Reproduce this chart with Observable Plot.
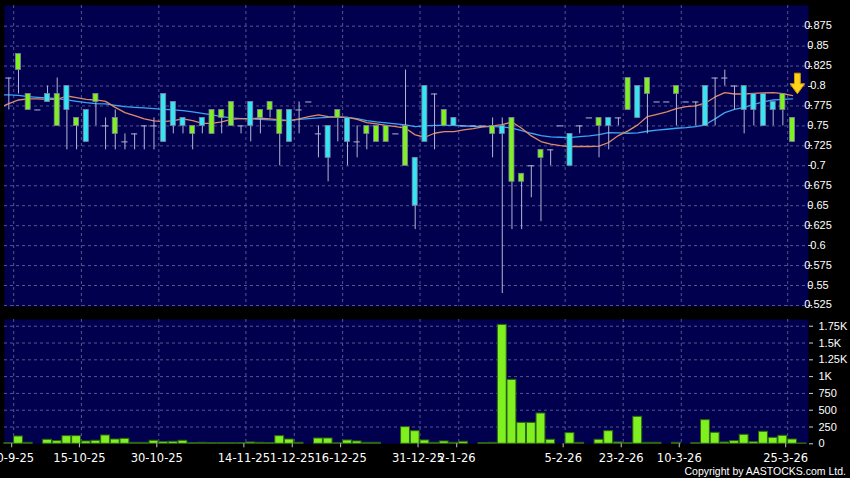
<!DOCTYPE html>
<html>
<head>
<meta charset="utf-8">
<script src="https://cdn.jsdelivr.net/npm/d3@7"></script>
<script src="https://cdn.jsdelivr.net/npm/@observablehq/plot@0.6"></script>
<style>
  html, body { margin: 0; padding: 0; background: #000; }
  #wrap { position: relative; width: 850px; height: 478px; overflow: hidden; background: #000; }
  #price { position: absolute; left: 0; top: 0; z-index: 3; }
  #vol { position: absolute; left: 0; top: 310px; z-index: 1; }
  #copy { position: absolute; right: 4px; top: 466px; color: #fff; font-family: "Liberation Sans", Arial, sans-serif; font-size: 10.5px; line-height: 1; white-space: nowrap; z-index: 4; }
  #price svg { overflow: visible; }
</style>
</head>
<body>
<div id="wrap">
  <div id="price"></div>
  <div id="vol"></div>
  <div id="copy">Copyright by AASTOCKS.com Ltd.</div>
</div>
<script>
// ---- data (one entry per trading slot, left to right) ----
const opens  = [0.81,0.82,0.77,0.77,0.79,0.75,0.80,0.75,0.77,0.78, 0.75,0.74,0.73,0.74,0.75,0.75,0.79,0.78,0.76,0.74, 0.76,0.74,0.76,0.75,0.75,0.78,0.76,0.77,0.74,0.77, 0.77,0.78,0.74,0.75,0.76,0.76,0.73,0.74,0.73,0.73, 0.74,0.70,0.71,0.80,0.79,0.75,0.76,0.75,0.75,0.75, 0.74,0.75,0.68,0.68,0.70,0.71,0.72,0.75,0.74,0.75, 0.76,0.75,0.76,0.76,0.77,0.80,0.79,0.78,0.78,0.79, 0.78,0.78,0.80,0.81,0.81,0.80,0.80,0.79,0.79,0.78, 0.77,0.73,null];
const highs  = [0.81,0.84,0.79,0.77,0.80,0.81,0.80,0.76,0.77,0.79, 0.76,0.77,0.74,0.74,0.75,0.76,0.79,0.78,0.76,0.75, 0.76,0.77,0.77,0.78,0.75,0.78,0.77,0.78,0.77,0.77, 0.78,0.78,0.75,0.75,0.77,0.76,0.75,0.75,0.75,0.75, 0.74,0.82,0.71,0.80,0.79,0.77,0.76,0.75,0.75,0.75, 0.76,0.76,0.76,0.69,0.70,0.72,0.72,0.75,0.74,0.75, 0.76,0.76,0.76,0.76,0.81,0.80,0.81,0.78,0.78,0.80, 0.78,0.78,0.80,0.81,0.82,0.80,0.80,0.79,0.79,0.78, 0.79,0.76,null];
const lows   = [0.77,0.79,0.77,0.77,0.78,0.75,0.72,0.72,0.73,0.75, 0.72,0.72,0.72,0.72,0.72,0.72,0.73,0.74,0.74,0.72, 0.74,0.74,0.74,0.75,0.74,0.73,0.74,0.76,0.70,0.73, 0.74,0.78,0.71,0.68,0.73,0.70,0.71,0.72,0.73,0.73, 0.74,0.70,0.62,0.73,0.72,0.75,0.75,0.75,0.75,0.75, 0.71,0.54,0.62,0.62,0.66,0.63,0.70,0.75,0.70,0.74, 0.76,0.71,0.72,0.75,0.77,0.76,0.74,0.78,0.78,0.75, 0.78,0.75,0.75,0.75,0.80,0.77,0.74,0.75,0.75,0.75, 0.75,0.73,null];
const closes = [0.81,0.84,0.79,0.77,0.78,0.79,0.77,0.76,0.73,0.79, 0.75,0.76,0.73,0.74,0.75,0.75,0.73,0.75,0.75,0.75, 0.75,0.77,0.77,0.78,0.75,0.75,0.77,0.78,0.77,0.73, 0.77,0.78,0.74,0.71,0.77,0.73,0.73,0.75,0.75,0.75, 0.74,0.75,0.65,0.73,0.79,0.77,0.75,0.75,0.75,0.75, 0.75,0.74,0.76,0.69,0.70,0.72,0.72,0.75,0.70,0.75, 0.76,0.76,0.75,0.76,0.81,0.76,0.81,0.78,0.78,0.80, 0.78,0.78,0.75,0.81,0.81,0.80,0.77,0.77,0.75,0.77, 0.79,0.76,null];
const volumes = [10,109,15,0,60,40,114,114,35,45, 124,64,74,15,15,45,25,30,45,10, 15,10,10,10,10,20,15,10,114,64, 15,0,79,79,8,50,35,15,15,0, 0,248,188,50,15,35,15,30,0,10, 15,1770,952,312,312,451,60,0,159,15, 0,60,188,20,10,402,15,15,0,15, 0,10,352,164,20,40,134,25,179,89, 119,64,5];
// moving averages, starting one slot before the first candle
const maStartSlot = -1;
const maShort = [0.7725, 0.778,0.7825,0.7838,0.7838,0.7833,0.7833,0.7875,0.7854,0.7833,0.7825, 0.7808,0.7733,0.7667,0.7629,0.7588,0.7563,0.7554,0.7567,0.7588,0.7567, 0.7533,0.7533,0.755,0.7583,0.7592,0.7592,0.7596,0.7588,0.7575,0.7567, 0.7588,0.7617,0.7638,0.7617,0.7608,0.7608,0.7583,0.7542,0.7525,0.7508, 0.7492,0.7471,0.7388,0.7358,0.7408,0.7429,0.7429,0.745,0.7467,0.7488, 0.75,0.7517,0.755,0.7471,0.7375,0.7304,0.7271,0.7254,0.7242,0.7242, 0.7242,0.7246,0.7292,0.7379,0.7438,0.7513,0.7617,0.7646,0.7675,0.7717, 0.7742,0.775,0.7788,0.7863,0.7917,0.79,0.79,0.7908,0.7913,0.7917, 0.7904,0.7879];
const maLong  = [0.789, 0.7888,0.7883,0.7867,0.7858,0.785,0.7842,0.7825,0.7808,0.7792,0.7779, 0.7775,0.7758,0.7742,0.7733,0.7725,0.7717,0.7708,0.77,0.7692,0.7675, 0.7658,0.7638,0.7617,0.76,0.7592,0.7588,0.7583,0.7575,0.7571,0.7567, 0.7583,0.7592,0.76,0.7608,0.7617,0.7608,0.7592,0.7567,0.755,0.7538, 0.7525,0.7513,0.7492,0.75,0.7508,0.7508,0.7508,0.75,0.7496,0.7492, 0.7492,0.7488,0.7471,0.7442,0.7408,0.7379,0.7363,0.7358,0.7354,0.7367, 0.7375,0.7392,0.7417,0.7413,0.7408,0.7413,0.7433,0.7446,0.7458,0.7471, 0.7479,0.7492,0.7517,0.7588,0.7667,0.7708,0.7733,0.7771,0.78,0.7825, 0.7833,0.7838];
const dateTickSlots  = [1, 8, 16, 25, 30, 35, 43, 47, 58, 64, 70, 81];
const dateTickLabels = ["30-9-25","15-10-25","30-10-25","14-11-25","1-12-25","16-12-25","31-12-25","2-1-26","5-2-26","23-2-26","10-3-26","25-3-26"];
const priceTicks  = [0.525,0.55,0.575,0.6,0.625,0.65,0.675,0.7,0.725,0.75,0.775,0.8,0.825,0.85,0.875];
const volumeTicks = [0,250,500,750,1000,1250,1500,1750];
const signalSlot  = [81.5];
const signalPrice = [0.8028];

// ---- styling ----
const NAVY = "#00004e";
const GRID = "#55558f";
const WICK = "#b4b4d4";
const UP = "#7ff020";
const DOWN = "#33e6f5";
const BODY_EDGE = "#8080a0";

const candles = opens.map((o, i) => ({i, open: o, high: highs[i], low: lows[i], close: closes[i]})).filter(d => d.open != null);
const bodies = candles.filter(d => d.open !== d.close);
const dojis = candles.filter(d => d.open === d.close);
const shortLine = maShort.map((v, k) => ({i: k + maStartSlot, v}));
const longLine = maLong.map((v, k) => ({i: k + maStartSlot, v}));
const volData = volumes.map((v, i) => ({i, v}));
const gridX = dateTickSlots.map(s => s - 0.5);
const labelByTick = new Map(gridX.map((g, k) => [g, dateTickLabels[k]]));
const signal = signalSlot.map((s, k) => ({i: s, p: signalPrice[k]}));

const xDomain = [-0.4486, 82.65];
const fmtPrice = d => String(+d.toFixed(3));
const fmtVol = d => d >= 1000 ? (+(d / 1000).toFixed(2)) + "K" : String(d);

// custom down-arrow symbol
const downArrow = {
  draw(ctx, size) {
    const r = Math.sqrt(size / Math.PI);
    ctx.moveTo(-0.58 * r, -2.12 * r);
    ctx.lineTo(0.58 * r, -2.12 * r);
    ctx.lineTo(0.58 * r, 0);
    ctx.lineTo(1.46 * r, 0);
    ctx.lineTo(0, 2.0 * r);
    ctx.lineTo(-1.46 * r, 0);
    ctx.lineTo(-0.58 * r, 0);
    ctx.closePath();
  }
};

const baseStyle = {background: "transparent", color: "#ffffff", fontFamily: "'Liberation Sans', Arial, sans-serif", fontSize: "11px"};
const labelFont = "'Liberation Sans', Arial, sans-serif";

const price = Plot.plot({
  width: 850, height: 310,
  marginLeft: 4, marginRight: 42, marginTop: 5, marginBottom: 4,
  style: baseStyle,
  x: {type: "linear", domain: xDomain, axis: null},
  y: {type: "linear", domain: [0.5237, 0.9009], axis: null},
  marks: [
    Plot.frame({fill: NAVY, stroke: null}),
    Plot.ruleY(priceTicks, {stroke: GRID, strokeDasharray: "3,3", strokeWidth: 1}),
    Plot.ruleX(gridX, {stroke: GRID, strokeDasharray: "3,3", strokeWidth: 1}),
    Plot.line(longLine, {x: "i", y: "v", stroke: "#3aa6f2", strokeWidth: 1.3, clip: true}),
    Plot.line(shortLine, {x: "i", y: "v", stroke: "#e08a68", strokeWidth: 1.3, clip: true}),
    Plot.ruleX(candles.filter(d => d.high > d.low), {x: "i", y1: "low", y2: "high", stroke: WICK, strokeWidth: 1}),
    Plot.rect(bodies, {x1: d => d.i - 0.26, x2: d => d.i + 0.26, y1: "open", y2: "close", fill: d => d.close > d.open ? UP : DOWN, stroke: BODY_EDGE, strokeWidth: 0.8}),
    Plot.ruleY(dojis, {y: "close", x1: d => d.i - 0.32, x2: d => d.i + 0.32, stroke: WICK, strokeWidth: 1}),
    Plot.dot(signal, {x: "i", y: "p", symbol: downArrow, r: 5, fill: "#ffd21c", stroke: "#d49a00", strokeWidth: 1})
  ]
});
document.getElementById("price").appendChild(price);

// right-hand price scale: tick dashes and labels, positioned with the plot's own y scale
const yScale = price.scale("y");
const priceAxis = d3.select(price).append("g").attr("class", "price-axis");
priceAxis.selectAll("line").data(priceTicks).join("line")
  .attr("x1", 808).attr("x2", 812)
  .attr("y1", d => Math.round(yScale.apply(d)) + 0.5)
  .attr("y2", d => Math.round(yScale.apply(d)) + 0.5)
  .attr("stroke", "#d0d0d0");
priceAxis.selectAll("text").data(priceTicks).join("text")
  .attr("x", 818)
  .attr("y", d => yScale.apply(d))
  .attr("dy", "0.32em")
  .attr("fill", "#ffffff")
  .attr("font-family", labelFont)
  .attr("font-size", 11)
  .text(fmtPrice);

const vol = Plot.plot({
  width: 850, height: 168,
  marginLeft: 4, marginRight: 42, marginTop: 9, marginBottom: 34.7,
  style: baseStyle,
  x: {type: "linear", domain: xDomain, axis: null},
  y: {type: "linear", domain: [0, 1850], axis: null},
  marks: [
    Plot.frame({fill: NAVY, stroke: null}),
    Plot.ruleY(volumeTicks.slice(1), {stroke: GRID, strokeDasharray: "3,3", strokeWidth: 1}),
    Plot.ruleX(gridX, {stroke: GRID, strokeDasharray: "3,3", strokeWidth: 1}),
    Plot.rect(volData, {x1: d => d.i - 0.46, x2: d => d.i + 0.46, y1: 0, y2: "v", fill: "#80f020", stroke: "#2c6410", strokeWidth: 1}),
    Plot.axisY(volumeTicks, {anchor: "right", label: null, tickSize: 4, tickPadding: 6, tickFormat: fmtVol, stroke: "#d0d0d0", fontSize: 11, fontFamily: labelFont}),
    Plot.axisX(gridX, {anchor: "bottom", label: null, tickSize: 4, tickPadding: 6, dx: -2, tickFormat: d => labelByTick.get(d), stroke: "#c8c8c8", fontSize: 11.5, fontFamily: "'DejaVu Sans', sans-serif"})
  ]
});
document.getElementById("vol").appendChild(vol);
</script>
</body>
</html>
